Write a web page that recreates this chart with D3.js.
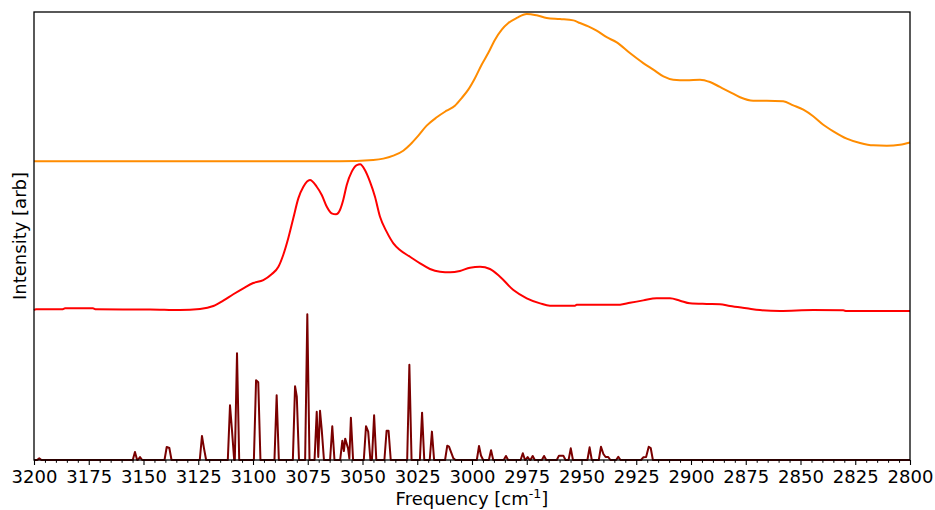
<!DOCTYPE html>
<html>
<head>
<meta charset="utf-8">
<script src="https://cdn.jsdelivr.net/npm/d3@7"></script>
<style>
  body { margin: 0; background: #fff; }
  svg { display: block; font-family: "DejaVu Sans", sans-serif; }
</style>
</head>
<body>
<svg id="chart" width="935" height="510"></svg>
<script>
// experimental spectrum (top, orange) - [frequency, intensity]
const exptSpectrum = [
  [3200, 0], [3060.3, 0], [3045.1, 0.009], [3040.5, 0.018], [3035.9, 0.038], [3031.4, 0.071],
  [3028.3, 0.111], [3024.5, 0.172], [3020.7, 0.239], [3016.1, 0.295], [3011.6, 0.339],
  [3007.8, 0.373], [3004.7, 0.424], [3001.7, 0.48], [2998.6, 0.558], [2995.6, 0.647],
  [2992.6, 0.725], [2989.5, 0.815], [2986.4, 0.882], [2983.4, 0.926], [2979.6, 0.96],
  [2975.0, 0.987], [2970.5, 0.978], [2965.9, 0.96], [2959.8, 0.953], [2953.7, 0.944],
  [2950.7, 0.926], [2946.9, 0.904], [2943.1, 0.875], [2938.5, 0.831], [2933.9, 0.797],
  [2927.9, 0.725], [2921.8, 0.658], [2917.2, 0.614], [2912.6, 0.569], [2908.1, 0.547],
  [2902.0, 0.543], [2895.9, 0.547], [2891.3, 0.531], [2886.8, 0.498], [2882.2, 0.464],
  [2877.6, 0.429], [2871.6, 0.406], [2865.4, 0.406], [2857.9, 0.402], [2853.3, 0.375],
  [2848.7, 0.346], [2844.2, 0.302], [2839.6, 0.245], [2835.0, 0.201], [2828.9, 0.152],
  [2822.8, 0.123], [2816.8, 0.107], [2810.6, 0.105], [2804.6, 0.111], [2800, 0.126]
];

// broadened spectrum (middle, red)
const broadSpectrum = [
  [3200, 0.004], [3199.1, 0.009], [3187.2, 0.009], [3185.8, 0.016], [3173.1, 0.016],
  [3171.7, 0.009], [3147.0, 0.008], [3133.3, 0.004], [3124.2, 0.011], [3118.1, 0.031],
  [3113.6, 0.067], [3109.0, 0.11], [3104.4, 0.15], [3099.9, 0.185], [3095.3, 0.205],
  [3091.5, 0.244], [3088.4, 0.294], [3086.2, 0.373], [3083.9, 0.485], [3081.6, 0.619],
  [3079.3, 0.752], [3077.0, 0.83], [3074.0, 0.875], [3070.9, 0.83], [3068.6, 0.775],
  [3066.3, 0.696], [3064.1, 0.652], [3062.1, 0.645], [3060.3, 0.674], [3058.8, 0.741],
  [3057.2, 0.842], [3054.9, 0.931], [3052.6, 0.975], [3051.1, 0.98], [3048.9, 0.942],
  [3046.6, 0.864], [3044.3, 0.763], [3042.0, 0.629], [3039.0, 0.529], [3035.9, 0.451],
  [3032.9, 0.406], [3028.3, 0.361], [3023.7, 0.317], [3019.2, 0.279], [3014.6, 0.261],
  [3010.0, 0.257], [3005.5, 0.266], [3000.9, 0.288], [2996.3, 0.294], [2991.8, 0.279],
  [2987.2, 0.227], [2981.1, 0.138], [2975.0, 0.083], [2968.9, 0.049], [2964.4, 0.033],
  [2953.0, 0.033], [2952.2, 0.04], [2932.4, 0.04], [2927.9, 0.053], [2921.8, 0.069],
  [2915.7, 0.083], [2909.6, 0.083], [2905.0, 0.067], [2900.5, 0.049], [2892.8, 0.045],
  [2886.8, 0.043], [2882.2, 0.031], [2874.6, 0.016], [2868.5, 0.004], [2859.4, -0.002],
  [2844.2, 0.004], [2830.5, 0.002], [2829.0, -0.002], [2800, -0.002]
];

// computed lines (bottom, maroon) - [frequency, intensity]
const stickPeaks = [
  [3197.6, 0.011], [3153.9, 0.054], [3151.6, 0.02], [3139.4, 0.087], [3138.2, 0.08],
  [3123.3, 0.161], [3122.4, 0.08], [3110.5, 0.366], [3109.6, 0.2], [3107.3, 0.715],
  [3098.6, 0.534], [3097.6, 0.52], [3089.2, 0.433], [3080.8, 0.494], [3080.0, 0.424],
  [3075.2, 0.976], [3070.9, 0.323], [3070.2, 0.02], [3069.4, 0.33], [3068.6, 0.2],
  [3063.8, 0.226], [3059.2, 0.129], [3058.5, 0.06], [3057.9, 0.143], [3056.6, 0.078],
  [3056.0, 0.01], [3055.3, 0.283], [3048.4, 0.226], [3047.4, 0.19], [3044.7, 0.299],
  [3039.0, 0.196], [3038.1, 0.196], [3028.6, 0.638], [3022.8, 0.317], [3018.3, 0.19],
  [3011.3, 0.096], [3010.5, 0.09], [3008.5, 0.011], [2996.8, 0.094], [2995.9, 0.03],
  [2991.3, 0.065], [2984.5, 0.027], [2976.8, 0.045], [2974.6, 0.02], [2972.3, 0.027],
  [2967.1, 0.027], [2960.3, 0.029], [2958.3, 0.029], [2954.9, 0.078], [2946.3, 0.085],
  [2941.1, 0.089], [2940.0, 0.04], [2939.0, 0.02], [2937.8, 0.02], [2933.2, 0.022],
  [2921.8, 0.018], [2920.5, 0.02], [2919.3, 0.089], [2918.4, 0.08]
];

// vertical offsets of the stacked traces
const traceOffsets = { expt: 2, broad: 1, stick: 0 };

const majorTicks = d3.range(2800, 3201, 25);
const minorTicks = d3.range(2800, 3201, 5).filter(v => v % 25 !== 0);

const svg = d3.select("#chart");
const width = 935, height = 510;
const margin = { top: 12, right: 25, bottom: 50, left: 34 };

const x = d3.scaleLinear().domain([3200, 2800]).range([margin.left, width - margin.right]);
const y = d3.scaleLinear().domain([0, 3]).range([height - margin.bottom, margin.top]);

// stick trace: baseline between peaks further apart than 2 cm-1
const stickTrace = [[3200, 0]];
stickPeaks.forEach((p, i) => {
  const prev = stickPeaks[i - 1];
  if (!prev || prev[0] - p[0] > 2) {
    if (prev) stickTrace.push([prev[0] - 1, 0]);
    stickTrace.push([p[0] + 1, 0]);
  }
  stickTrace.push(p);
});
stickTrace.push([stickPeaks[stickPeaks.length - 1][0] - 1, 0], [2800, 0]);

const line = (off, curve) => d3.line().curve(curve || d3.curveLinear)
  .x(d => x(d[0])).y(d => y(d[1] + off));

const plot = svg.append("g");
plot.append("path").datum(stickTrace).attr("fill", "none").attr("stroke", "#7a0000")
  .attr("stroke-width", 2).attr("stroke-linejoin", "round").attr("d", line(traceOffsets.stick));
plot.append("path").datum(broadSpectrum).attr("fill", "none").attr("stroke", "#ff0000")
  .attr("stroke-width", 2).attr("d", line(traceOffsets.broad, d3.curveMonotoneX));
plot.append("path").datum(exptSpectrum).attr("fill", "none").attr("stroke", "#ff8c00")
  .attr("stroke-width", 2).attr("d", line(traceOffsets.expt, d3.curveMonotoneX));

// x axis: major + minor ticks
const xAxis = svg.append("g").attr("transform", `translate(0,${y(0)})`)
  .call(d3.axisBottom(x).tickValues(majorTicks).tickFormat(d3.format("d")).tickSize(5).tickPadding(5));
xAxis.select(".domain").remove();
xAxis.selectAll("line").attr("stroke", "#000").attr("stroke-width", 1.1);
xAxis.selectAll("text").attr("fill", "#000").style("font-size", "18px").style("font-family", "DejaVu Sans");

const xMinor = svg.append("g").attr("transform", `translate(0,${y(0)})`)
  .call(d3.axisBottom(x).tickValues(minorTicks).tickFormat("").tickSize(2.8));
xMinor.select(".domain").remove();
xMinor.selectAll("line").attr("stroke", "#000").attr("stroke-width", 1);

// frame
svg.append("rect").attr("x", x(3200)).attr("y", y(3))
  .attr("width", x(2800) - x(3200)).attr("height", y(0) - y(3))
  .attr("fill", "none").attr("stroke", "#000").attr("stroke-width", 1.3);

// axis labels
const xl = svg.append("text").attr("x", (x(3200) + x(2800)) / 2).attr("y", 505)
  .attr("text-anchor", "middle").style("font-size", "18px").attr("fill", "#000");
xl.append("tspan").text("Frequency [cm");
xl.append("tspan").attr("dy", -7).style("font-size", "12.6px").text("-1");
xl.append("tspan").attr("dy", 7).text("]");

svg.append("text").attr("transform", `translate(25.5,${(y(0) + y(3)) / 2}) rotate(-90)`)
  .attr("text-anchor", "middle").style("font-size", "18px").attr("fill", "#000")
  .text("Intensity [arb]");
</script>
</body>
</html>
